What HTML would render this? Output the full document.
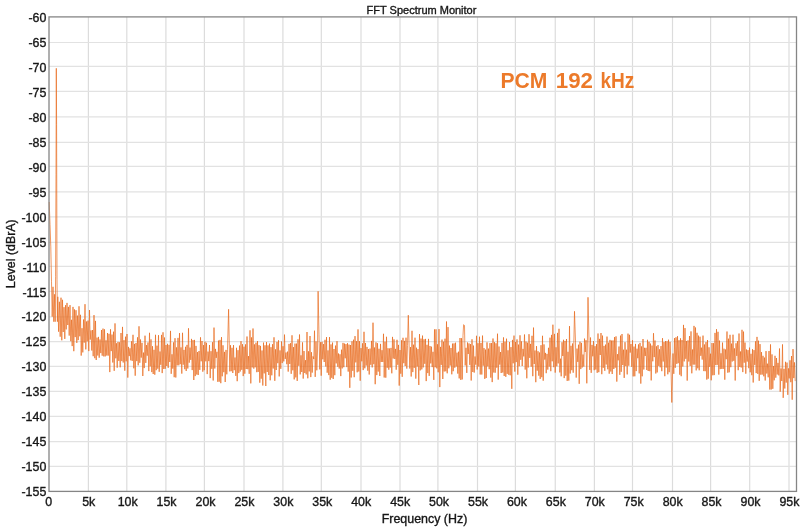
<!DOCTYPE html>
<html><head><meta charset="utf-8"><style>
html,body{margin:0;padding:0;background:#fff;width:800px;height:527px;overflow:hidden}
svg{display:block;filter:blur(0.3px);}
text{font-family:"Liberation Sans",sans-serif;fill:#161616;stroke:#161616;stroke-width:0.35px}
.gv{stroke:#dcdcdc;stroke-width:1.2}
.gh{stroke:#e2e2e2;stroke-width:1.2}
.tick text{font-size:12.4px}
.pcm text{font-size:22.8px;font-weight:bold;fill:#ec7a2a;stroke:none;letter-spacing:0}
</style></head><body>
<svg width="800" height="527" viewBox="0 0 800 527">
<rect width="800" height="527" fill="#fff"/>
<g><line x1="88.40" y1="16.9" x2="88.40" y2="491.4" class="gv"/><line x1="126.80" y1="16.9" x2="126.80" y2="491.4" class="gv"/><line x1="165.90" y1="16.9" x2="165.90" y2="491.4" class="gv"/><line x1="204.40" y1="16.9" x2="204.40" y2="491.4" class="gv"/><line x1="244.00" y1="16.9" x2="244.00" y2="491.4" class="gv"/><line x1="282.90" y1="16.9" x2="282.90" y2="491.4" class="gv"/><line x1="321.30" y1="16.9" x2="321.30" y2="491.4" class="gv"/><line x1="361.00" y1="16.9" x2="361.00" y2="491.4" class="gv"/><line x1="400.00" y1="16.9" x2="400.00" y2="491.4" class="gv"/><line x1="437.90" y1="16.9" x2="437.90" y2="491.4" class="gv"/><line x1="477.50" y1="16.9" x2="477.50" y2="491.4" class="gv"/><line x1="515.40" y1="16.9" x2="515.40" y2="491.4" class="gv"/><line x1="555.25" y1="16.9" x2="555.25" y2="491.4" class="gv"/><line x1="594.40" y1="16.9" x2="594.40" y2="491.4" class="gv"/><line x1="632.50" y1="16.9" x2="632.50" y2="491.4" class="gv"/><line x1="672.50" y1="16.9" x2="672.50" y2="491.4" class="gv"/><line x1="710.60" y1="16.9" x2="710.60" y2="491.4" class="gv"/><line x1="749.70" y1="16.9" x2="749.70" y2="491.4" class="gv"/><line x1="789.00" y1="16.9" x2="789.00" y2="491.4" class="gv"/><line x1="49.0" y1="42.50" x2="796.5" y2="42.50" class="gh"/><line x1="49.0" y1="66.40" x2="796.5" y2="66.40" class="gh"/><line x1="49.0" y1="91.30" x2="796.5" y2="91.30" class="gh"/><line x1="49.0" y1="116.90" x2="796.5" y2="116.90" class="gh"/><line x1="49.0" y1="142.30" x2="796.5" y2="142.30" class="gh"/><line x1="49.0" y1="166.40" x2="796.5" y2="166.40" class="gh"/><line x1="49.0" y1="191.90" x2="796.5" y2="191.90" class="gh"/><line x1="49.0" y1="216.90" x2="796.5" y2="216.90" class="gh"/><line x1="49.0" y1="242.30" x2="796.5" y2="242.30" class="gh"/><line x1="49.0" y1="266.40" x2="796.5" y2="266.40" class="gh"/><line x1="49.0" y1="291.30" x2="796.5" y2="291.30" class="gh"/><line x1="49.0" y1="316.90" x2="796.5" y2="316.90" class="gh"/><line x1="49.0" y1="341.70" x2="796.5" y2="341.70" class="gh"/><line x1="49.0" y1="366.40" x2="796.5" y2="366.40" class="gh"/><line x1="49.0" y1="391.40" x2="796.5" y2="391.40" class="gh"/><line x1="49.0" y1="416.40" x2="796.5" y2="416.40" class="gh"/><line x1="49.0" y1="441.70" x2="796.5" y2="441.70" class="gh"/><line x1="49.0" y1="466.30" x2="796.5" y2="466.30" class="gh"/></g>
<text x="421.5" y="13.5" text-anchor="middle" style="font-size:11px">FFT Spectrum Monitor</text>
<g class="pcm"><text x="500.5" y="87.8" textLength="46.9" lengthAdjust="spacingAndGlyphs">PCM</text><text x="555.8" y="87.8" textLength="37.2" lengthAdjust="spacingAndGlyphs">192</text><text x="600.4" y="87.8" textLength="33.9" lengthAdjust="spacingAndGlyphs">kHz</text></g>
<polyline points="49.2,202.0 50.0,224.5 50.8,246.9 51.5,281.8 52.2,316.7 53.0,286.8 53.8,321.7 54.6,294.3 55.2,321.7 55.6,276.8 56.0,174.6 56.3,68.3 56.6,124.7 57.0,279.3 57.4,321.7 57.8,296.8 58.6,331.7 59.4,301.8 60.2,336.7 61.0,297.7 61.8,340.3 62.5,299.8 63.2,332.0 64.0,307.2 64.8,338.9 65.5,305.2 66.2,329.4 67.0,302.9 67.8,325.0 68.5,306.9 69.2,335.6 70.0,305.1 70.8,341.2 71.5,319.8 72.2,346.1 73.0,306.9 73.8,351.2 74.5,309.4 75.2,337.1 76.0,310.2 76.8,342.9 77.5,315.6 78.2,340.1 79.0,306.3 79.8,336.3 80.5,314.8 81.2,355.6 82.0,328.2 82.8,352.4 83.5,319.5 84.2,342.6 85.0,304.2 85.8,349.4 86.5,321.5 87.2,341.4 88.0,320.6 88.8,351.1 89.5,310.0 90.2,339.6 91.0,330.4 91.8,350.5 92.5,330.0 93.2,356.2 94.0,315.1 94.8,358.2 95.5,320.9 96.2,360.0 97.0,337.6 97.8,355.5 98.5,336.9 99.2,357.7 100.0,339.5 100.8,353.1 101.5,330.0 102.2,355.7 103.0,328.6 103.8,356.4 104.5,329.3 105.2,356.4 106.0,340.3 106.8,355.5 107.5,333.0 108.2,355.6 109.0,333.8 109.8,372.1 110.5,329.3 111.2,351.1 112.0,334.6 112.8,362.5 113.5,331.7 114.2,370.8 115.0,323.4 115.8,358.3 116.5,343.3 117.2,367.7 118.0,341.9 118.8,360.9 119.5,342.3 120.2,367.3 121.0,333.0 121.8,361.1 122.5,326.9 123.2,362.5 124.0,340.1 124.8,370.7 125.5,336.7 126.2,361.3 127.0,334.0 127.8,377.6 128.5,346.9 129.2,356.1 130.0,348.3 130.8,360.3 131.5,341.3 132.2,360.9 133.0,334.8 133.8,368.3 134.5,343.9 135.2,375.7 136.0,343.0 136.8,361.1 137.5,337.3 138.2,365.3 139.0,326.3 139.8,362.8 140.5,339.5 141.2,357.6 142.0,342.9 142.8,376.0 143.5,352.6 144.2,368.1 145.0,335.7 145.8,362.9 146.5,345.1 147.2,355.7 148.0,342.5 148.8,371.1 149.5,332.8 150.2,366.4 151.0,339.4 151.8,372.1 152.5,346.2 153.2,374.0 154.0,349.8 154.8,374.7 155.5,334.8 156.2,370.2 157.0,345.7 157.8,368.7 158.5,335.2 159.2,371.8 160.0,351.5 160.8,364.8 161.5,334.9 162.2,373.1 163.0,332.3 163.8,369.0 164.5,337.5 165.2,368.8 166.0,345.0 166.8,366.0 167.5,343.8 168.2,367.8 169.0,344.9 169.8,362.0 170.5,330.9 171.2,373.8 172.0,354.3 172.8,368.6 173.5,342.4 174.2,377.2 175.0,338.2 175.8,377.5 176.5,347.4 177.2,365.3 178.0,337.9 178.8,365.3 179.5,333.1 180.2,364.2 181.0,347.4 181.8,373.6 182.5,332.8 183.2,364.7 184.0,349.9 184.8,369.2 185.5,346.8 186.2,371.0 187.0,344.9 187.8,368.5 188.5,328.3 189.2,362.7 190.0,347.6 190.8,359.9 191.5,338.9 192.2,370.1 193.0,340.1 193.8,380.0 194.5,339.9 195.2,376.1 196.0,345.9 196.8,374.5 197.5,352.1 198.2,375.0 199.0,351.0 199.8,369.9 200.5,337.3 201.2,361.3 202.0,341.0 202.8,371.7 203.5,345.1 204.2,370.2 205.0,341.7 205.8,361.3 206.5,342.8 207.2,374.1 208.0,351.6 208.8,361.1 209.5,345.0 210.2,378.1 211.0,351.2 211.8,368.8 212.5,342.2 213.2,380.5 214.0,327.6 214.8,368.5 215.5,348.9 216.2,357.9 217.0,351.8 217.8,381.8 218.5,340.6 219.2,381.7 220.0,339.9 220.8,383.2 221.5,337.1 222.2,376.3 223.0,345.3 223.8,372.2 224.5,351.9 225.2,382.0 226.0,349.9 226.8,374.3 227.5,349.3 228.6,309.3 229.8,371.4 230.5,345.2 231.2,371.2 232.0,347.8 232.8,373.0 233.5,345.1 234.2,370.2 235.0,357.5 235.8,375.9 236.5,347.8 237.2,381.2 238.0,350.2 238.8,373.1 239.5,345.6 240.2,371.5 241.0,341.2 241.8,369.8 242.5,344.2 243.2,376.1 244.0,346.7 244.8,373.7 245.5,344.4 246.2,369.0 247.0,336.5 247.8,369.2 248.5,356.1 249.2,373.8 250.0,330.3 250.8,383.4 251.5,337.4 252.2,367.4 253.0,328.5 253.8,368.6 254.5,344.4 255.2,367.3 256.0,342.7 256.8,372.2 257.5,341.1 258.2,371.9 259.0,345.2 259.8,382.7 260.5,345.9 261.2,378.7 262.0,350.5 262.8,385.5 263.5,342.6 264.2,373.4 265.0,345.3 265.8,386.0 266.5,342.1 267.2,372.0 268.0,345.4 268.8,375.0 269.5,343.6 270.2,380.3 271.0,347.2 271.8,375.3 272.5,344.2 273.2,368.5 274.0,337.3 274.8,380.8 275.5,349.3 276.2,370.0 277.0,341.9 277.8,363.2 278.5,340.3 279.2,376.4 280.0,350.4 280.8,368.8 281.5,341.5 282.2,363.1 283.0,346.2 283.8,361.4 284.5,334.6 285.2,358.9 286.0,352.5 286.8,364.2 287.5,351.6 288.2,371.6 289.0,343.9 289.8,364.0 290.5,343.2 291.2,373.8 292.0,335.3 292.8,370.3 293.5,347.1 294.2,379.4 295.0,343.6 295.8,377.4 296.5,343.6 297.2,380.9 298.0,339.3 298.8,365.8 299.5,334.5 300.2,374.4 301.0,355.3 301.8,372.0 302.5,342.4 303.2,378.6 304.0,351.0 304.8,373.0 305.5,360.2 306.2,374.4 307.0,332.0 307.8,378.3 308.5,351.3 309.2,371.4 310.0,336.0 310.8,377.1 311.5,352.2 312.2,372.6 313.0,356.4 313.8,359.0 314.5,330.7 315.2,376.9 316.0,341.4 316.8,370.3 317.5,352.0 318.1,291.3 319.0,334.9 319.8,369.4 320.5,342.2 321.2,375.7 322.0,341.8 322.8,359.3 323.5,344.1 324.2,362.0 325.0,339.8 325.8,366.5 326.5,337.1 327.2,372.7 328.0,350.4 328.8,375.1 329.5,337.1 330.2,379.7 331.0,344.4 331.8,377.8 332.5,342.6 333.2,379.0 334.0,349.0 334.8,375.2 335.5,345.6 336.2,363.4 337.0,341.2 337.8,366.8 338.5,353.5 339.2,368.6 340.0,354.3 340.8,376.1 341.5,349.7 342.2,368.4 343.0,342.9 343.8,367.2 344.5,343.6 345.2,358.3 346.0,344.1 346.8,367.1 347.5,343.2 348.2,371.6 349.0,344.6 349.8,387.8 350.5,345.0 351.2,377.5 352.0,341.3 352.8,370.8 353.5,339.7 354.2,377.2 355.0,336.1 355.8,362.4 356.5,341.2 357.2,372.3 358.0,329.4 358.8,371.5 359.5,341.2 360.2,380.7 361.0,348.1 361.8,361.3 362.5,343.3 363.2,370.1 364.0,331.8 364.8,368.3 365.5,343.0 366.2,365.5 367.0,346.9 367.8,370.7 368.5,349.1 369.2,374.5 370.0,348.6 370.8,364.8 371.5,340.9 372.2,367.4 373.0,322.7 373.8,364.2 374.5,347.5 375.2,384.2 376.0,342.4 376.8,375.1 377.5,343.2 378.2,371.6 379.0,348.8 379.8,376.0 380.5,343.9 381.2,362.0 382.0,350.2 382.8,362.0 383.5,333.8 384.2,377.5 385.0,341.7 385.8,377.7 386.5,336.8 387.2,367.8 388.0,348.2 388.8,369.7 389.5,348.5 390.2,367.5 391.0,347.9 391.8,373.3 392.5,336.9 393.2,358.5 394.0,339.4 394.8,359.0 395.5,348.9 396.2,369.7 397.0,339.8 397.8,364.8 398.5,344.9 399.2,385.6 400.0,350.0 400.8,373.7 401.5,340.3 402.2,376.8 403.0,337.8 403.8,363.2 404.5,340.9 405.2,366.0 406.0,337.7 406.8,368.6 407.5,345.4 408.3,315.2 409.0,341.9 409.8,368.5 410.5,347.1 411.2,376.5 412.0,330.8 412.8,372.1 413.5,344.7 414.2,367.9 415.0,337.7 415.8,378.6 416.5,347.7 417.2,366.5 418.0,349.1 418.8,385.0 419.5,334.1 420.2,370.4 421.0,338.6 421.8,369.4 422.5,335.6 423.2,367.4 424.0,339.3 424.8,363.8 425.5,338.9 426.2,381.1 427.0,344.8 427.8,373.1 428.5,338.9 429.2,375.9 430.0,346.0 430.8,363.4 431.5,346.7 432.2,367.1 433.0,351.8 433.8,379.9 434.5,329.4 435.2,367.3 436.0,329.3 436.8,368.4 437.5,344.3 438.2,372.3 439.0,329.1 439.8,387.1 440.5,346.9 441.2,364.9 442.0,339.6 442.8,379.0 443.5,341.7 444.2,371.5 445.0,338.7 445.8,371.3 446.5,321.5 447.2,373.3 448.0,327.1 448.8,368.3 449.5,345.6 450.2,365.5 451.0,348.0 451.8,374.3 452.5,343.6 453.2,371.2 454.0,343.4 454.8,367.7 455.5,342.7 456.2,366.5 457.0,352.7 457.8,373.6 458.5,351.7 459.2,378.4 460.0,338.0 460.8,379.9 461.5,338.2 462.2,379.4 463.0,335.3 463.6,324.7 464.5,325.5 465.2,365.4 466.0,347.8 466.8,372.9 467.5,342.5 468.2,354.0 469.0,343.4 469.8,364.9 470.5,344.1 471.2,380.5 472.0,339.3 472.8,372.0 473.5,345.6 474.2,372.6 475.0,356.5 475.8,364.7 476.5,335.8 477.2,369.5 478.0,343.2 478.8,366.5 479.5,336.7 480.2,374.5 481.0,343.0 481.8,374.5 482.5,335.6 483.2,365.7 484.0,348.1 484.8,378.9 485.5,349.6 486.2,378.0 487.0,342.4 487.8,366.4 488.5,348.6 489.2,369.2 490.0,343.1 490.8,377.6 491.5,343.1 492.2,382.1 493.0,338.5 493.8,372.5 494.5,342.2 495.2,372.7 496.0,343.3 496.8,367.7 497.5,333.7 498.2,379.6 499.0,346.5 499.8,364.6 500.5,352.0 501.2,373.0 502.0,342.9 502.8,372.5 503.5,337.4 504.2,376.0 505.0,341.7 505.8,376.8 506.5,338.7 507.2,373.9 508.0,350.3 508.8,374.8 509.5,342.0 510.2,375.3 511.0,347.1 511.8,388.8 512.5,339.9 513.2,363.3 514.0,335.6 514.8,371.6 515.5,341.9 516.2,362.1 517.0,339.4 517.8,374.7 518.5,344.6 519.2,366.2 520.0,335.3 520.8,359.8 521.5,341.4 522.2,366.0 523.0,348.9 523.8,356.4 524.5,334.5 525.2,369.6 526.0,341.6 526.8,378.3 527.5,342.7 528.2,367.5 529.0,334.2 529.8,357.9 530.5,343.9 531.2,366.7 532.0,335.8 532.8,376.2 533.5,327.6 534.2,364.0 535.0,350.5 535.8,382.2 536.5,346.1 537.2,370.7 538.0,351.2 538.8,375.7 539.5,352.5 540.2,378.9 541.0,345.2 541.8,377.2 542.5,335.8 543.2,380.7 544.0,344.4 544.8,359.6 545.5,352.9 546.2,373.2 547.0,353.9 547.8,369.6 548.5,347.8 549.2,366.6 550.0,337.7 550.8,371.2 551.5,334.9 552.2,361.3 552.9,324.7 553.8,367.2 554.5,333.9 555.2,372.6 556.0,347.3 556.8,366.3 557.5,332.9 558.2,363.4 559.0,328.8 559.8,372.4 560.5,358.7 561.2,376.3 562.0,342.3 562.8,356.0 563.5,339.8 564.2,378.1 565.0,340.9 565.8,375.7 566.5,339.0 567.2,380.9 568.0,351.8 568.8,380.6 569.5,326.1 570.2,373.5 571.0,345.8 571.8,370.2 572.5,343.5 573.2,372.7 574.5,311.3 575.5,342.2 576.2,377.6 577.0,348.6 577.8,361.9 578.5,344.7 579.2,383.8 580.0,341.7 580.8,369.1 581.5,342.9 582.2,367.5 583.0,354.5 583.8,366.6 584.5,338.6 585.2,352.0 586.0,340.2 586.8,383.3 588.0,297.3 589.0,340.9 589.8,369.9 590.5,337.5 591.2,372.8 592.0,344.9 592.8,356.3 593.5,341.1 594.2,370.2 595.0,346.2 595.8,369.5 596.5,344.1 597.2,372.8 598.0,333.5 598.8,372.2 599.5,338.9 600.2,355.0 601.0,333.0 601.8,374.2 602.5,335.6 603.2,367.8 604.0,345.9 604.8,370.8 605.5,344.6 606.2,364.5 607.0,336.6 607.8,369.3 608.5,342.7 609.2,373.7 610.0,339.9 610.8,371.5 611.5,340.6 612.2,374.0 613.0,340.4 613.8,369.0 614.5,337.1 615.2,367.7 616.0,336.4 616.8,381.6 617.5,354.2 618.2,360.3 619.0,346.5 619.8,374.8 620.5,335.6 621.2,371.8 622.0,334.0 622.8,365.0 623.5,349.7 624.2,377.9 625.0,342.2 625.8,366.1 626.5,349.7 627.2,374.4 628.0,333.6 628.8,365.7 629.5,334.8 630.2,352.6 631.0,344.0 631.8,366.9 632.5,340.2 633.2,376.4 634.0,346.6 634.8,376.3 635.5,343.9 636.2,371.1 637.0,348.7 637.8,358.2 638.5,344.4 639.2,373.4 640.0,342.9 640.8,383.6 641.5,346.4 642.2,376.3 643.0,339.0 643.8,369.5 644.5,347.8 645.2,356.0 646.0,347.8 646.8,370.0 647.5,339.8 648.2,371.0 649.0,341.8 649.8,371.2 650.5,343.6 651.2,380.4 652.0,345.6 652.8,361.3 653.5,333.2 654.2,357.1 655.0,340.5 655.8,373.5 656.5,346.3 657.2,372.4 658.0,345.1 658.8,365.9 659.5,349.3 660.2,367.3 661.0,346.1 661.8,371.2 662.5,338.2 663.2,361.5 664.0,342.1 664.8,376.2 665.5,341.0 666.2,367.6 667.0,341.3 667.8,374.3 668.5,339.7 669.2,372.2 670.0,341.9 670.8,360.1 671.8,402.5 673.0,353.5 673.8,373.8 674.5,338.1 675.2,367.8 676.0,337.3 676.8,363.9 677.5,336.2 678.2,363.2 679.0,340.2 679.8,374.7 680.5,338.3 681.2,376.2 682.0,340.0 682.8,366.5 683.5,324.9 684.2,361.4 685.0,328.1 685.8,358.8 686.5,341.1 687.2,380.6 688.0,340.4 688.8,361.5 689.5,336.0 690.2,365.9 691.0,331.4 691.8,373.3 692.5,349.5 693.2,364.6 694.0,325.9 694.8,364.6 695.5,327.5 696.2,370.4 697.0,332.8 697.8,368.3 698.5,335.6 699.2,370.3 700.0,336.7 700.8,355.8 701.5,347.7 702.2,359.6 703.0,335.6 703.8,371.1 704.5,344.5 705.2,371.2 706.0,342.1 706.8,379.6 707.5,340.0 708.2,378.7 709.0,347.3 709.8,366.9 710.5,353.7 711.2,380.3 712.0,343.0 712.8,375.3 713.5,343.2 714.2,375.1 715.0,332.9 715.8,365.1 716.5,329.2 717.2,364.9 718.0,331.8 718.8,374.6 719.5,340.6 720.2,369.1 721.0,353.3 721.8,368.9 722.5,342.6 723.2,368.9 724.0,348.7 724.8,379.7 725.5,349.5 726.2,359.2 727.0,331.5 727.8,372.7 728.5,338.7 729.2,372.3 730.0,334.8 730.8,367.2 731.5,343.6 732.2,361.5 733.0,334.7 733.8,360.8 734.5,348.4 735.2,380.5 736.0,343.3 736.8,355.9 737.5,341.2 738.2,370.2 739.0,333.5 739.8,366.9 740.5,351.5 741.2,367.5 742.0,329.8 742.8,372.1 743.5,331.6 744.2,362.7 745.0,342.6 745.8,373.7 746.5,349.5 747.2,361.6 748.0,350.1 748.8,368.2 749.5,347.6 750.2,372.3 751.0,353.8 751.8,375.2 752.5,349.2 753.2,382.5 754.0,350.1 754.8,364.9 755.5,341.3 756.2,373.1 757.0,336.9 757.8,373.9 758.5,340.7 759.2,380.8 760.0,344.1 760.8,374.7 761.5,352.1 762.2,374.6 763.0,355.8 763.8,376.3 764.5,357.6 765.2,380.5 766.0,351.1 766.8,373.5 767.5,363.7 768.2,377.3 769.0,351.0 769.8,389.5 770.5,344.4 771.2,389.5 772.0,354.4 772.8,388.8 773.5,366.0 774.2,380.3 775.0,355.8 775.8,377.7 776.5,358.0 777.2,374.5 778.0,362.9 778.8,375.4 779.5,348.5 780.2,391.7 781.0,368.5 781.8,381.0 782.5,344.4 783.2,397.8 784.0,368.9 784.8,388.5 785.5,361.8 786.2,382.6 787.0,362.6 787.8,394.8 788.5,368.4 789.2,378.4 790.0,360.3 790.8,382.2 791.5,356.0 792.2,399.7 793.0,349.1 793.8,378.1 794.5,362.4 795.2,381.1" fill="none" stroke="#e86a1c" stroke-width="0.7" stroke-opacity="1.0"/>
<rect x="49.0" y="16.9" width="747.5" height="474.5" fill="none" stroke="#858585" stroke-width="1.3"/>
<g class="tick"><text x="46.3" y="22.16" text-anchor="end">-60</text><text x="46.3" y="47.10" text-anchor="end">-65</text><text x="46.3" y="72.04" text-anchor="end">-70</text><text x="46.3" y="96.98" text-anchor="end">-75</text><text x="46.3" y="121.92" text-anchor="end">-80</text><text x="46.3" y="146.86" text-anchor="end">-85</text><text x="46.3" y="171.80" text-anchor="end">-90</text><text x="46.3" y="196.74" text-anchor="end">-95</text><text x="46.3" y="221.68" text-anchor="end">-100</text><text x="46.3" y="246.62" text-anchor="end">-105</text><text x="46.3" y="271.56" text-anchor="end">-110</text><text x="46.3" y="296.50" text-anchor="end">-115</text><text x="46.3" y="321.44" text-anchor="end">-120</text><text x="46.3" y="346.38" text-anchor="end">-125</text><text x="46.3" y="371.32" text-anchor="end">-130</text><text x="46.3" y="396.26" text-anchor="end">-135</text><text x="46.3" y="421.20" text-anchor="end">-140</text><text x="46.3" y="446.14" text-anchor="end">-145</text><text x="46.3" y="471.08" text-anchor="end">-150</text><text x="46.3" y="496.02" text-anchor="end">-155</text><text x="48.77" y="506" text-anchor="middle">0</text><text x="88.70" y="506" text-anchor="middle">5k</text><text x="127.63" y="506" text-anchor="middle">10k</text><text x="166.56" y="506" text-anchor="middle">15k</text><text x="205.49" y="506" text-anchor="middle">20k</text><text x="244.42" y="506" text-anchor="middle">25k</text><text x="283.35" y="506" text-anchor="middle">30k</text><text x="322.28" y="506" text-anchor="middle">35k</text><text x="361.21" y="506" text-anchor="middle">40k</text><text x="400.14" y="506" text-anchor="middle">45k</text><text x="439.07" y="506" text-anchor="middle">50k</text><text x="478.00" y="506" text-anchor="middle">55k</text><text x="516.93" y="506" text-anchor="middle">60k</text><text x="555.86" y="506" text-anchor="middle">65k</text><text x="594.79" y="506" text-anchor="middle">70k</text><text x="633.72" y="506" text-anchor="middle">75k</text><text x="672.65" y="506" text-anchor="middle">80k</text><text x="711.58" y="506" text-anchor="middle">85k</text><text x="750.51" y="506" text-anchor="middle">90k</text><text x="789.44" y="506" text-anchor="middle">95k</text></g>
<text x="424.5" y="522.7" text-anchor="middle" style="font-size:12.45px">Frequency (Hz)</text>
<text transform="translate(14.9,253.75) rotate(-90)" text-anchor="middle" style="font-size:12.4px">Level (dBrA)</text>
</svg>
</body></html>
